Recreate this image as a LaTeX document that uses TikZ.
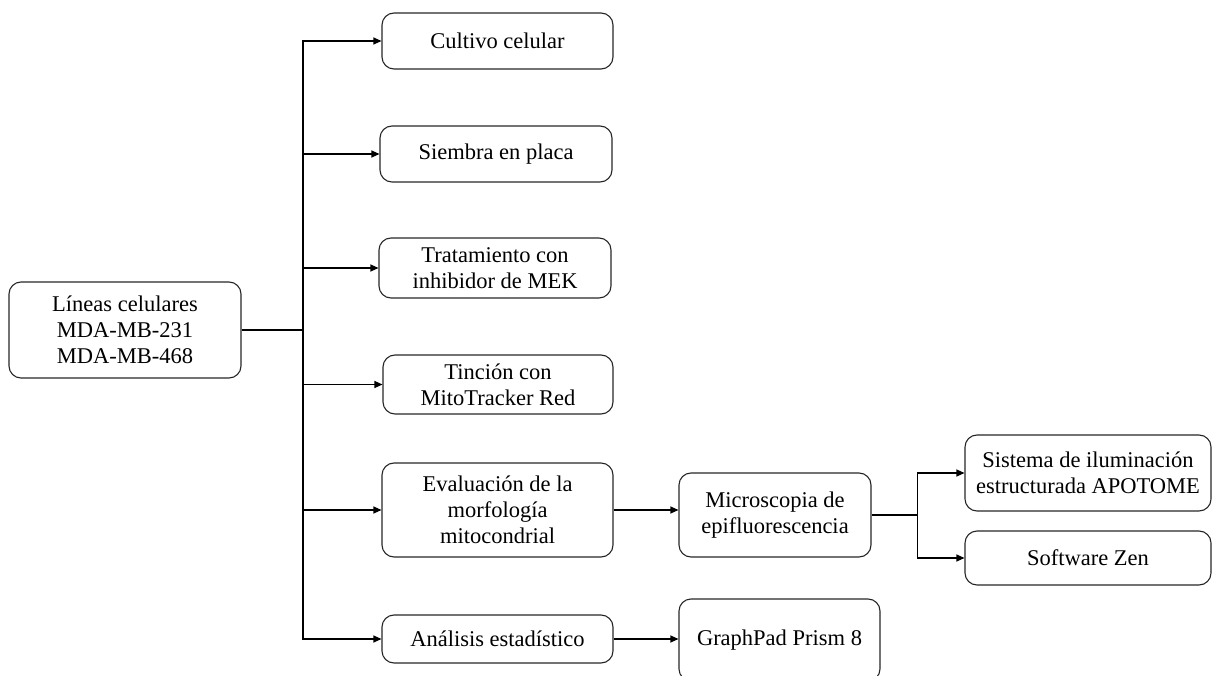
\documentclass[tikz,border=0pt]{standalone}
\usepackage{fontspec}
\setmainfont{Liberation Serif}
\usetikzlibrary{arrows.meta}
\begin{document}
\begin{tikzpicture}[x=1pt,y=-1pt,
  box/.style={draw=black!85, line width=1.1pt, rounded corners=12pt, align=center, inner sep=0pt,
    font=\fontsize{22.5}{26}\selectfont, text=black},
  conn/.style={draw=black, line width=1.1pt},
  arr/.style={conn, -{Triangle[length=8pt,width=7pt]}}]
\useasboundingbox (0,0) rectangle (1213,676);
\node[box, minimum width=232pt, minimum height=96pt] (L) at (125,330) {Líneas celulares\\MDA-MB-231\\MDA-MB-468};
\node[box, minimum width=231pt, minimum height=56pt] (B1) at (497.5,41) {Cultivo celular};
\node[box, minimum width=232pt, minimum height=56pt] (B2) at (496,154) {Siembra en placa};
\node[box, minimum width=232pt, minimum height=60pt] (B3) at (495,268) {Tratamiento con\\inhibidor de MEK};
\node[box, minimum width=230pt, minimum height=59pt] (B4) at (498,384.5) {Tinción con\\MitoTracker Red};
\node[box, minimum width=231pt, minimum height=94pt] (B5) at (497.5,510) {Evaluación de la\\morfología\\mitocondrial};
\node[box, minimum width=231pt, minimum height=48pt] (B6) at (497.5,639) {Análisis estadístico};
\node[box, minimum width=192pt, minimum height=84pt] (M) at (775,515) {Microscopia de\\epifluorescencia};
\node[box, minimum width=201pt, minimum height=82pt] (G) at (779.5,640) {GraphPad Prism 8};
\node[box, minimum width=246pt, minimum height=76pt] (S) at (1088,473) {Sistema de iluminación\\estructurada APOTOME};
\node[box, minimum width=246pt, minimum height=54pt] (Z) at (1088,558) {Software Zen};
\coordinate (j) at (303,330);
\coordinate (k) at ([xshift=46pt]M.east);
\draw[conn] (L.east) -- (j);
\foreach \b in {B1,B2,B3,B4,B5,B6} \draw[arr] (j) |- (\b.west);
\draw[arr] (B5.east) -- (B5.east -| M.west);
\draw[arr] (B6.east) -- (B6.east -| G.west);
\draw[conn] (M.east) -- (k);
\draw[arr] (k) |- (S.west);
\draw[arr] (k) |- (Z.west);
\end{tikzpicture}
\end{document}
